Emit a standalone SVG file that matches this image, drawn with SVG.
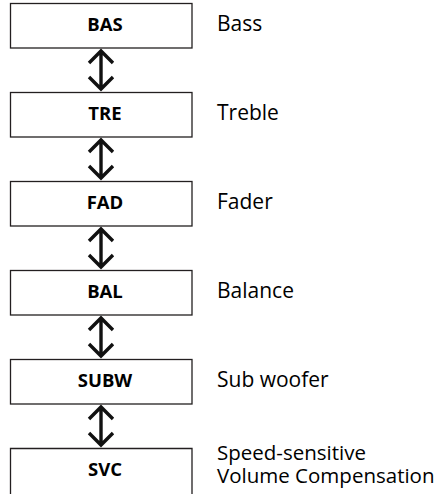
<svg xmlns="http://www.w3.org/2000/svg" width="442" height="494" viewBox="0 0 442 494">
<defs>
<style>
.box{fill:#fff;stroke:#231f20;stroke-width:1.3}
.code{font-family:"Open Sans","Noto Sans",sans-serif;font-weight:bold;font-size:18.5px;fill:#000;text-anchor:middle}
.lbl{font-family:"Open Sans","Noto Sans",sans-serif;font-size:21px;fill:#000}
.lbl2{font-family:"Open Sans","Noto Sans",sans-serif;font-size:20.5px;fill:#000}
.arr{fill:none;stroke:#111;stroke-width:3.4;stroke-linejoin:miter}
</style>
</defs>
<rect width="442" height="494" fill="#fff"/>
<g id="connectors">
<path class="arr" d="M101,51V89M89,63L101,51L113,63M89,77L101,89L113,77"/>
<path class="arr" d="M101,140V178M89,152L101,140L113,152M89,166L101,178L113,166"/>
<path class="arr" d="M101,229V267M89,241L101,229L113,241M89,255L101,267L113,255"/>
<path class="arr" d="M101,318V356M89,330L101,318L113,330M89,344L101,356L113,344"/>
<path class="arr" d="M101,407V445M89,419L101,407L113,419M89,433L101,445L113,433"/>
</g>
<g id="bas"><rect class="box" x="10.5" y="3.5" width="181.5" height="44.5"/><text class="code" x="105" y="30.5">BAS</text><text class="lbl" x="217" y="30.5">Bass</text></g>
<g id="tre"><rect class="box" x="10.5" y="92.5" width="181.5" height="44.5"/><text class="code" x="105" y="119.5">TRE</text><text class="lbl" x="217" y="119.5">Treble</text></g>
<g id="fad"><rect class="box" x="10.5" y="181.5" width="181.5" height="44.5"/><text class="code" x="105" y="208.5">FAD</text><text class="lbl" x="217" y="208.5">Fader</text></g>
<g id="bal"><rect class="box" x="10.5" y="270.5" width="181.5" height="44.5"/><text class="code" x="105" y="297.5">BAL</text><text class="lbl" x="217" y="297.5">Balance</text></g>
<g id="subw"><rect class="box" x="10.5" y="359.5" width="181.5" height="44.5"/><text class="code" x="105" y="386.5">SUBW</text><text class="lbl" x="217" y="386.5">Sub woofer</text></g>
<g id="svc"><path class="box" d="M10.5,495V448.5H192V495"/><text class="code" x="105" y="475.5">SVC</text><text class="lbl2" x="217" y="460">Speed-sensitive<tspan x="217" y="483">Volume Compensation</tspan></text></g>
</svg>
